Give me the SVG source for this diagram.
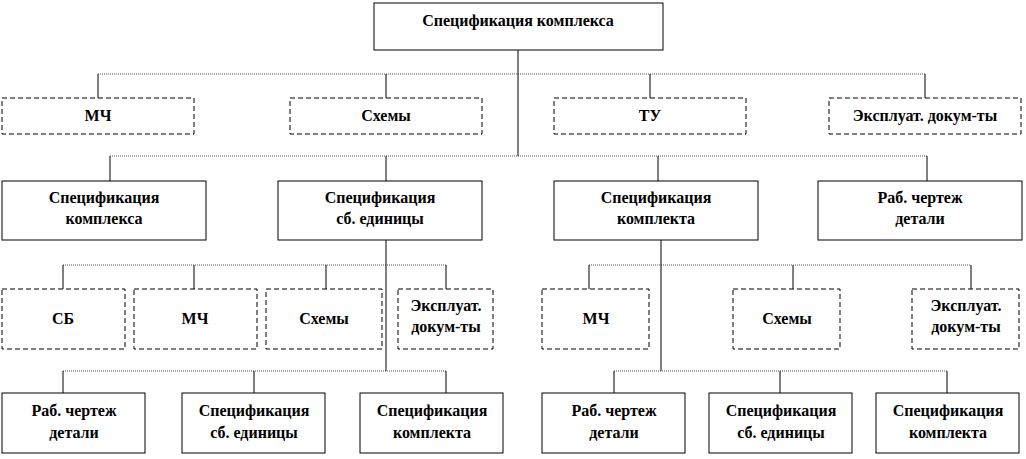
<svg xmlns="http://www.w3.org/2000/svg" width="1026" height="459" viewBox="0 0 1026 459">
<style>
rect{fill:#fff;stroke:#000;stroke-width:1}
.d{stroke-dasharray:5,3}
text{font-family:'Liberation Serif','Times New Roman','DejaVu Serif',serif;font-weight:bold;font-size:16px;text-anchor:middle}
.h{stroke:#555;stroke-width:1;stroke-dasharray:1,1;fill:none}
.v{stroke:#000;stroke-width:1;fill:none}
</style>
<rect width="1026" height="459" style="fill:#fff;stroke:none"/>
<g id="connectors">
<path class="h" d="M98 74H925M110 156H927M63 265H446M589 265H971M63 371H446M614 371H947"/>
<path class="v" d="M518 50V156M98 74V98M386 74V98M650 74V98M925 74V98M110 156V181M386 156V181M658 156V181M927 156V181M386 240V371M63 265V289M194 265V289M326 265V289M446 265V289M661 240V371M589 265V289M793 265V289M971 265V289M63 371V393M254 371V393M446 371V393M614 371V393M780 371V393M947 371V393"/>
</g>
<g font-family="Liberation Serif, serif">
<g id="n0"><rect x="374" y="3" width="289" height="47"/><text x="518" y="26">Спецификация комплекса</text></g>
<g id="n1"><rect class="d" x="2" y="98" width="192" height="36"/><text x="98" y="121">МЧ</text></g>
<g id="n2"><rect class="d" x="290" y="98" width="192" height="36"/><text x="386" y="121">Схемы</text></g>
<g id="n3"><rect class="d" x="554" y="98" width="192" height="36"/><text x="650" y="121">ТУ</text></g>
<g id="n4"><rect class="d" x="829" y="98" width="192" height="36"/><text x="925" y="121">Эксплуат. докум-ты</text></g>
<g id="n5"><rect x="2" y="181" width="204" height="59"/><text x="104" y="203">Спецификация</text><text x="104" y="224">комплекса</text></g>
<g id="n6"><rect x="278" y="181" width="204" height="59"/><text x="380" y="203">Спецификация</text><text x="380" y="224">сб. единицы</text></g>
<g id="n7"><rect x="554" y="181" width="204" height="59"/><text x="656" y="203">Спецификация</text><text x="656" y="224">комплекта</text></g>
<g id="n8"><rect x="818" y="181" width="204" height="59"/><text x="920" y="203">Раб. чертеж</text><text x="920" y="224">детали</text></g>
<g id="n9"><rect class="d" x="2" y="289" width="123" height="60"/><text x="63" y="324">СБ</text></g>
<g id="n10"><rect class="d" x="134" y="289" width="123" height="60"/><text x="195" y="324">МЧ</text></g>
<g id="n11"><rect class="d" x="266" y="289" width="116" height="60"/><text x="324" y="324">Схемы</text></g>
<g id="n12"><rect class="d" x="398" y="289" width="95" height="60"/><text x="446" y="311">Эксплуат.</text><text x="446" y="332">докум-ты</text></g>
<g id="n13"><rect class="d" x="542" y="289" width="107" height="60"/><text x="596" y="324">МЧ</text></g>
<g id="n14"><rect class="d" x="733" y="289" width="107" height="60"/><text x="787" y="324">Схемы</text></g>
<g id="n15"><rect class="d" x="912" y="289" width="107" height="60"/><text x="966" y="311">Эксплуат.</text><text x="966" y="332">докум-ты</text></g>
<g id="n16"><rect x="2" y="393" width="143" height="60"/><text x="74" y="416">Раб. чертеж</text><text x="74" y="438">детали</text></g>
<g id="n17"><rect x="182" y="393" width="143" height="60"/><text x="254" y="416">Спецификация</text><text x="254" y="438">сб. единицы</text></g>
<g id="n18"><rect x="360" y="393" width="143" height="60"/><text x="432" y="416">Спецификация</text><text x="432" y="438">комплекта</text></g>
<g id="n19"><rect x="542" y="393" width="143" height="60"/><text x="614" y="416">Раб. чертеж</text><text x="614" y="438">детали</text></g>
<g id="n20"><rect x="709" y="393" width="143" height="60"/><text x="781" y="416">Спецификация</text><text x="781" y="438">сб. единицы</text></g>
<g id="n21"><rect x="876" y="393" width="143" height="60"/><text x="948" y="416">Спецификация</text><text x="948" y="438">комплекта</text></g>
</g>
</svg>
